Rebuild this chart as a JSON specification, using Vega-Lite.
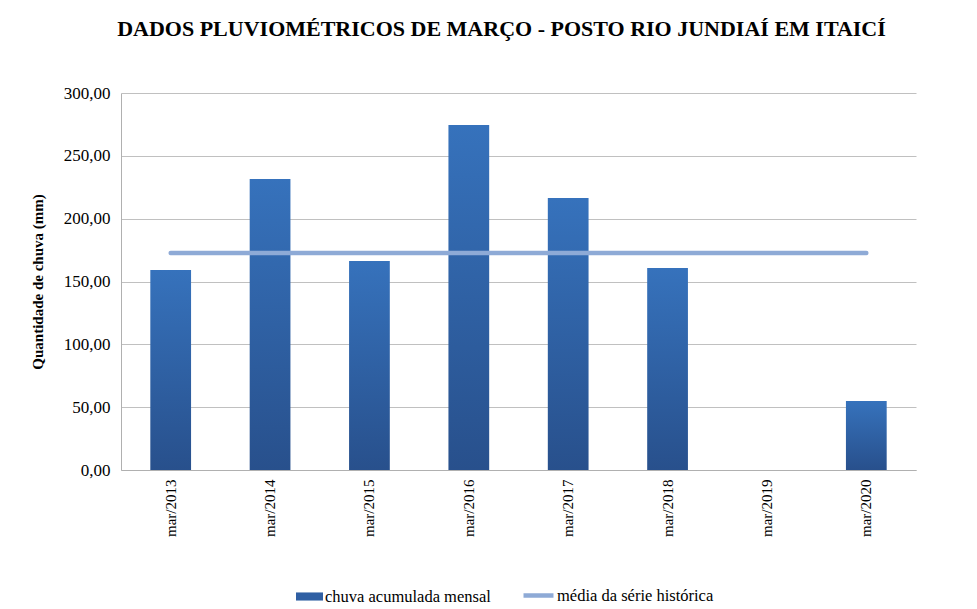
{
  "$schema": "https://vega.github.io/schema/vega-lite/v6.json",
  "autosize": {"type": "none"},
  "width": 795,
  "height": 377,
  "padding": {"left": 121, "top": 93, "right": 61, "bottom": 139},
  "background": "white",
  "config": {
    "locale": {"number": {"decimal": ",", "thousands": ".", "grouping": [3], "currency": ["R$", ""]}},
    "view": {"stroke": null},
    "font": "Liberation Serif"
  },
  "title": {
    "text": "DADOS PLUVIOMÉTRICOS DE MARÇO - POSTO RIO JUNDIAÍ EM ITAICÍ",
    "font": "Liberation Serif",
    "fontSize": 22,
    "fontWeight": "bold",
    "color": "#000000",
    "anchor": "middle",
    "frame": "group",
    "dx": -17,
    "offset": 43
  },
  "data": {
    "values": [
      {"mes": "mar/2013", "chuva": 159.2, "media": 172.7},
      {"mes": "mar/2014", "chuva": 231.6, "media": 172.7},
      {"mes": "mar/2015", "chuva": 166.3, "media": 172.7},
      {"mes": "mar/2016", "chuva": 274.5, "media": 172.7},
      {"mes": "mar/2017", "chuva": 216.4, "media": 172.7},
      {"mes": "mar/2018", "chuva": 160.7, "media": 172.7},
      {"mes": "mar/2019", "chuva": null, "media": 172.7},
      {"mes": "mar/2020", "chuva": 54.9, "media": 172.7}
    ]
  },
  "encoding": {
    "x": {
      "field": "mes",
      "type": "nominal",
      "sort": null,
      "scale": {
        "domain": ["mar/2013", "mar/2014", "mar/2015", "mar/2016", "mar/2017", "mar/2018", "mar/2019", "mar/2020"],
        "paddingInner": 0.59,
        "paddingOuter": 0.295
      },
      "axis": {
        "title": null,
        "labelAngle": -90,
        "labelFont": "Liberation Serif",
        "labelFontSize": 15,
        "labelColor": "#000000",
        "labelPadding": 9,
        "ticks": false,
        "domainColor": "#b0b0b0",
        "grid": false
      }
    }
  },
  "layer": [
    {
      "mark": {
        "type": "bar",
        "fill": {
          "gradient": "linear",
          "x1": 0, "y1": 0, "x2": 0, "y2": 1,
          "stops": [
            {"offset": 0, "color": "#3672bc"},
            {"offset": 1, "color": "#28508c"}
          ]
        }
      },
      "encoding": {
        "y": {
          "field": "chuva",
          "type": "quantitative",
          "scale": {"domain": [0, 300], "nice": false},
          "axis": {
            "title": "Quantidade de chuva (mm)",
            "titleFont": "Liberation Serif",
            "titleFontSize": 15,
            "titleFontWeight": "bold",
            "titleColor": "#000000",
            "titlePadding": 18,
            "values": [0, 50, 100, 150, 200, 250, 300],
            "format": ".2f",
            "labelFont": "Liberation Serif",
            "labelFontSize": 17,
            "labelColor": "#000000",
            "labelPadding": 11,
            "ticks": false,
            "domainColor": "#b0b0b0",
            "gridColor": "#c0c0c0",
            "gridWidth": 1
          }
        }
      }
    },
    {
      "mark": {"type": "bar", "opacity": 0},
      "encoding": {
        "y": {"field": "chuva", "type": "quantitative"},
        "fill": {
          "datum": "chuva acumulada mensal",
          "type": "nominal",
          "scale": {"range": ["#2f5fa3"]},
          "legend": {
            "title": null,
            "orient": "none",
            "legendX": 175,
            "legendY": 490,
            "symbolType": "M-1,-0.3H1V0.3H-1Z",
            "symbolSize": 729,
            "symbolOpacity": 1,
            "symbolStrokeWidth": 0,
            "labelFont": "Liberation Serif",
            "labelFontSize": 16.5,
            "labelLimit": 400,
            "labelColor": "#000000",
            "labelOffset": 2
          }
        }
      }
    },
    {
      "mark": {"type": "line", "strokeWidth": 4.5, "strokeCap": "round"},
      "encoding": {
        "y": {"field": "media", "type": "quantitative"},
        "stroke": {
          "datum": "média da série histórica",
          "type": "nominal",
          "scale": {"range": ["#8eaad6"]},
          "legend": {
            "title": null,
            "orient": "none",
            "legendX": 400,
            "legendY": 485,
            "symbolType": "stroke",
            "symbolSize": 900,
            "symbolStrokeWidth": 4.5,
            "labelFont": "Liberation Serif",
            "labelFontSize": 16.5,
            "labelLimit": 400,
            "labelColor": "#000000",
            "labelOffset": 1
          }
        }
      }
    }
  ]
}
